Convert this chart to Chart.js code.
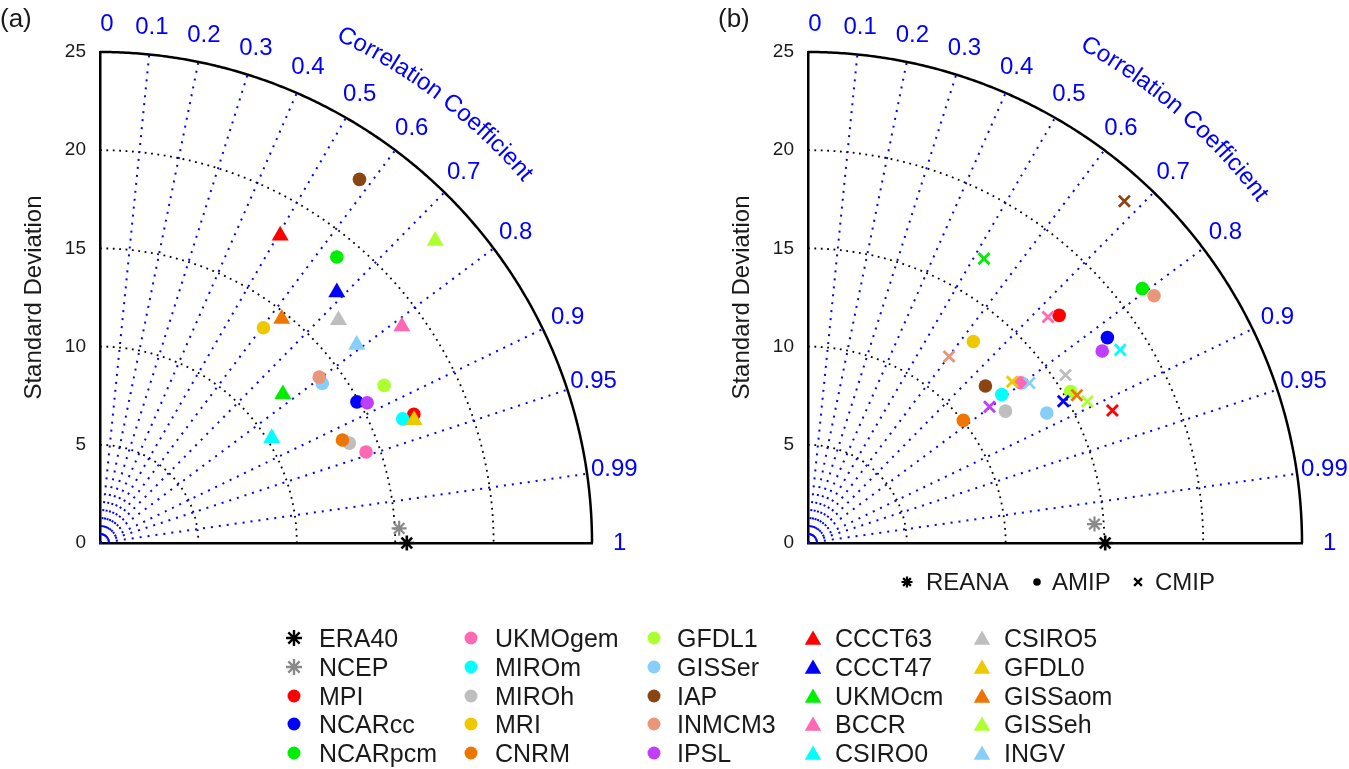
<!DOCTYPE html>
<html>
<head>
<meta charset="utf-8">
<script src="https://cdn.jsdelivr.net/npm/chart.js@4.4.1/dist/chart.umd.min.js"></script>
<style>
body{margin:0;background:#fff;width:1349px;height:769px;position:relative;overflow:hidden;font-family:"Liberation Sans",Arial,sans-serif;color:#1a1a1a}
#ca,#cb,#cl{position:absolute;top:0}
#ca{left:0}
#cb{left:700px}
#cl{left:0;top:560px}
.lab{position:absolute;font-size:26px;line-height:30px}
.leg{position:absolute;font-size:25px;line-height:28px;white-space:nowrap}
.key{position:absolute;font-size:24px;line-height:28px;white-space:nowrap}
</style>
</head>
<body>
<canvas id="ca" width="700" height="600"></canvas>
<canvas id="cb" width="649" height="600"></canvas>
<canvas id="cl" width="1349" height="209"></canvas>
<div class="lab" style="left:0;top:3px">(a)</div>
<div class="lab" style="left:718px;top:3px">(b)</div>
<div id="legend"></div>
<script>
// ticks of the diagram
var stdTicks = [5, 10, 15, 20];
var corrTicks = [0.1, 0.2, 0.3, 0.4, 0.5, 0.6, 0.7, 0.8, 0.9, 0.95, 0.99];
var corrLabels = ['0', '0.1', '0.2', '0.3', '0.4', '0.5', '0.6', '0.7', '0.8', '0.9', '0.95', '0.99', '1'];

// models (legend order)
var models = ['ERA40', 'NCEP', 'MPI', 'NCARcc', 'NCARpcm', 'UKMOgem', 'MIROm', 'MIROh', 'MRI', 'CNRM',
  'GFDL1', 'GISSer', 'IAP', 'INMCM3', 'IPSL', 'CCCT63', 'CCCT47', 'UKMOcm', 'BCCR', 'CSIRO0',
  'CSIRO5', 'GFDL0', 'GISSaom', 'GISSeh', 'INGV'];

// (a) standard deviation / correlation
var stdA = [15.59, 15.22, 17.24, 14.90, 18.89, 14.29, 16.63, 13.65, 13.75, 13.39,
  16.52, 13.91, 22.73, 13.98, 15.34, 18.13, 17.54, 11.99, 18.89, 10.23,
  16.60, 17.14, 14.68, 22.95, 16.49];
var corrA = [1.000, 0.9988, 0.925, 0.876, 0.637, 0.946, 0.925, 0.928, 0.604, 0.920,
  0.874, 0.812, 0.580, 0.797, 0.885, 0.505, 0.686, 0.775, 0.812, 0.853,
  0.730, 0.931, 0.629, 0.742, 0.791];

// (b) reanalyses, AMIP runs and CMIP runs
var reanaB = ['ERA40', 'NCEP'];
var stdReanaB = [15.04, 14.53];
var corrReanaB = [1.000, 0.9978];
var runsB = ['MPI', 'NCARcc', 'NCARpcm', 'UKMOgem', 'MIROm', 'MIROh', 'MRI', 'CNRM', 'GFDL1', 'GISSer', 'IAP', 'INMCM3', 'IPSL'];
var stdAmipB = [17.20, 18.41, 21.31, 13.51, 12.38, 12.04, 13.24, 10.04, 15.36, 13.78, 12.02, 21.57, 17.81];
var corrAmipB = [0.739, 0.823, 0.794, 0.797, 0.792, 0.830, 0.632, 0.783, 0.865, 0.877, 0.747, 0.812, 0.836];
var stdCmipB = [16.82, 14.80, 17.00, 16.73, 18.61, 15.59, 13.20, 15.55, 15.87, 13.85, 23.65, 11.88, 11.51];
var corrCmipB = [0.916, 0.873, 0.524, 0.726, 0.849, 0.836, 0.783, 0.875, 0.891, 0.809, 0.677, 0.601, 0.798];

// styles
var colour = {
  ERA40: '#000000', NCEP: '#8a8a8a', MPI: '#ff0000', NCARcc: '#0000ff', NCARpcm: '#00ee00',
  UKMOgem: '#ff69b4', MIROm: '#00ffff', MIROh: '#bebebe', MRI: '#eec900', CNRM: '#ee7600',
  GFDL1: '#adff2f', GISSer: '#87cefa', IAP: '#8b4513', INMCM3: '#e9967a', IPSL: '#bf3eff',
  CCCT63: '#ff0000', CCCT47: '#0000ff', UKMOcm: '#00ee00', BCCR: '#ff69b4', CSIRO0: '#00ffff',
  CSIRO5: '#bebebe', GFDL0: '#eec900', GISSaom: '#ee7600', GISSeh: '#adff2f', INGV: '#87cefa'
};
function shapeOf(i) { return i < 2 ? 'star' : (i < 15 ? 'circle' : 'triangle'); }
var FONT = '"Liberation Sans", Arial, sans-serif';

function toXY(s, c) { return { x: s * c, y: s * Math.sqrt(Math.max(0, 1 - c * c)) }; }

function ds(name, s, c, shape) {
  var col = colour[name];
  var d = { label: name, data: [toXY(s, c)], pointStyle: shape, clip: false,
    backgroundColor: col, borderColor: col, borderWidth: 0, pointRadius: 6.8 };
  if (shape === 'triangle') d.pointRadius = 9.8;
  if (shape === 'crossRot') { d.pointRadius = 7.8; d.borderWidth = 2.8; }
  if (shape === 'star') { d.pointRadius = 7.5; d.borderWidth = name === 'ERA40' ? 2.6 : 2.2; }
  return d;
}

var taylor = {
  id: 'taylor',
  beforeDatasetsDraw: function (chart) {
    var ctx = chart.ctx, xs = chart.scales.x, ys = chart.scales.y;
    function P(r, a) { return [xs.getPixelForValue(r * Math.cos(a)), ys.getPixelForValue(r * Math.sin(a))]; }
    ctx.save();
    ctx.lineCap = 'butt';
    // standard deviation circles
    ctx.strokeStyle = '#000'; ctx.lineWidth = 1.8; ctx.setLineDash([1.8, 4.6]);
    stdTicks.forEach(function (r) {
      ctx.beginPath();
      for (var i = 0; i <= 200; i++) {
        var p = P(r, Math.PI / 2 * (1 - i / 200));
        if (i) ctx.lineTo(p[0], p[1]); else ctx.moveTo(p[0], p[1]);
      }
      ctx.stroke();
    });
    // correlation rays
    ctx.strokeStyle = '#0000ff'; ctx.lineWidth = 2; ctx.setLineDash([2, 6]);
    corrTicks.forEach(function (c) {
      var a = Math.acos(c), p0 = P(0, 0), p1 = P(25, a);
      ctx.beginPath(); ctx.moveTo(p0[0], p0[1]); ctx.lineTo(p1[0], p1[1]); ctx.stroke();
    });
    // outer arc
    ctx.setLineDash([]); ctx.strokeStyle = '#000'; ctx.lineWidth = 2.5;
    ctx.beginPath();
    for (var i = 0; i <= 300; i++) {
      var p = P(25, Math.PI / 2 * i / 300);
      if (i) ctx.lineTo(p[0], p[1]); else ctx.moveTo(p[0], p[1]);
    }
    ctx.stroke();
    ctx.restore();
  },
  afterDraw: function (chart, args, opts) {
    var ctx = chart.ctx, xs = chart.scales.x, ys = chart.scales.y;
    function P(r, a) { return [xs.getPixelForValue(r * Math.cos(a)), ys.getPixelForValue(r * Math.sin(a))]; }
    ctx.save();
    ctx.fillStyle = '#0000ff';
    ctx.font = '24px ' + FONT;
    ctx.textAlign = 'center'; ctx.textBaseline = 'middle';
    corrLabels.forEach(function (t) {
      var p = P(26.4, Math.acos(parseFloat(t)));
      if (t === '0') p[0] += 7;
      ctx.fillText(t, p[0], p[1]);
    });
    // curved axis title
    var txt = 'Correlation Coefficient';
    ctx.font = '24px ' + FONT;
    ctx.textBaseline = 'alphabetic';
    var o = P(0, 0);
    var kx = xs.getPixelForValue(1) - o[0];
    var R = opts.titleR * kx;
    var W = ctx.measureText(txt).width;
    var th = opts.titleAngle * Math.PI / 180 + W / 2 / R;
    for (var i = 0; i < txt.length; i++) {
      var ch = txt[i], w = ctx.measureText(ch).width;
      var a = th - w / 2 / R;
      ctx.save();
      ctx.translate(o[0] + R * Math.cos(a), o[1] - R * Math.sin(a));
      ctx.rotate(Math.PI / 2 - a);
      ctx.fillText(ch, 0, 0);
      ctx.restore();
      th -= w / R;
    }
    ctx.restore();
  }
};

function makeChart(id, datasets, axisW, padRight, titlePad, titleAngle, titleR) {
  return new Chart(document.getElementById(id), {
    type: 'scatter',
    data: { datasets: datasets },
    options: {
      responsive: false,
      animation: false,
      events: [],
      layout: { padding: { top: 52, right: padRight, bottom: 57, left: 0 } },
      plugins: {
        legend: { display: false },
        tooltip: { enabled: false },
        taylor: { titleAngle: titleAngle, titleR: titleR }
      },
      scales: {
        x: {
          type: 'linear', min: 0, max: 25,
          grid: { display: false, drawTicks: false },
          ticks: { display: false },
          border: { display: true, color: '#000', width: 2.5 },
          afterFit: function (s) { s.height = 0; }
        },
        y: {
          type: 'linear', min: 0, max: 25,
          grid: { display: false, drawTicks: false },
          ticks: { stepSize: 5, padding: 14, color: '#1a1a1a', font: { family: FONT, size: 19 } },
          border: { display: true, color: '#000', width: 2.5 },
          title: { display: true, text: 'Standard Deviation', color: '#1a1a1a',
            font: { family: FONT, size: 24 }, padding: { top: titlePad, bottom: 0 } },
          afterFit: function (s) { s.width = axisW; }
        }
      }
    },
    plugins: [taylor]
  });
}

// panel (a): later legend entries drawn on top
var dsA = models.map(function (m, i) { return ds(m, stdA[i], corrA[i], shapeOf(i)); }).reverse();
makeChart('ca', dsA, 100, 108, 20, 52.7, 28.25);

// panel (b)
var dsB = [];
reanaB.forEach(function (m, i) { dsB.push(ds(m, stdReanaB[i], corrReanaB[i], 'star')); });
runsB.forEach(function (m, i) { dsB.push(ds(m, stdCmipB[i], corrCmipB[i], 'crossRot')); });
runsB.forEach(function (m, i) { dsB.push(ds(m, stdAmipB[i], corrAmipB[i], 'circle')); });
makeChart('cb', dsB, 108, 47, 28, 49.2, 28.55);

// legends
function marker(ctx, shape, x, y, r, col, lw) {
  ctx.save();
  ctx.fillStyle = col; ctx.strokeStyle = col; ctx.lineWidth = lw || 2;
  ctx.beginPath();
  if (shape === 'circle') { ctx.arc(x, y, r, 0, Math.PI * 2); ctx.fill(); }
  else if (shape === 'triangle') {
    ctx.moveTo(x, y - r); ctx.lineTo(x + r * 0.866, y + r / 2); ctx.lineTo(x - r * 0.866, y + r / 2);
    ctx.closePath(); ctx.fill();
  } else if (shape === 'cross') {
    var d = r * 0.7071;
    ctx.moveTo(x - d, y - d); ctx.lineTo(x + d, y + d); ctx.moveTo(x - d, y + d); ctx.lineTo(x + d, y - d); ctx.stroke();
  } else {
    for (var k = 0; k < 4; k++) {
      var a = k * Math.PI / 4, dx = Math.cos(a) * r, dy = Math.sin(a) * r;
      ctx.moveTo(x - dx, y - dy); ctx.lineTo(x + dx, y + dy);
    }
    ctx.stroke();
  }
  ctx.restore();
}

var lc = document.getElementById('cl').getContext('2d');
var top0 = 560;
var colX = [[294, 319], [471, 495], [654, 677], [813, 835], [982, 1004]];
var rowY = [638, 667, 696, 724, 753];
var legend = document.getElementById('legend');
models.forEach(function (m, i) {
  var c = Math.floor(i / 5), r = i % 5;
  var sh = shapeOf(i);
  var ym = rowY[r] - top0 + (sh === 'triangle' ? 2 : 0);
  marker(lc, sh, colX[c][0], ym, sh === 'triangle' ? 9.5 : (sh === 'star' ? 8 : 6.5), colour[m], 2.4);
  var d = document.createElement('div');
  d.className = 'leg';
  d.style.left = colX[c][1] + 'px';
  d.style.top = (rowY[r] - 14) + 'px';
  d.textContent = m;
  legend.appendChild(d);
});

// experiment key of panel (b)
var keyB = [['star', 907, 926, 'REANA'], ['circle', 1037, 1052, 'AMIP'], ['cross', 1138, 1155, 'CMIP']];
keyB.forEach(function (k) {
  marker(lc, k[0], k[1], 582 - top0, k[0] === 'circle' ? 3.8 : 5.5, '#000', 2.2);
  var d = document.createElement('div');
  d.className = 'key';
  d.style.left = k[2] + 'px';
  d.style.top = (582 - 14) + 'px';
  d.textContent = k[3];
  legend.appendChild(d);
});
</script>
</body>
</html>
